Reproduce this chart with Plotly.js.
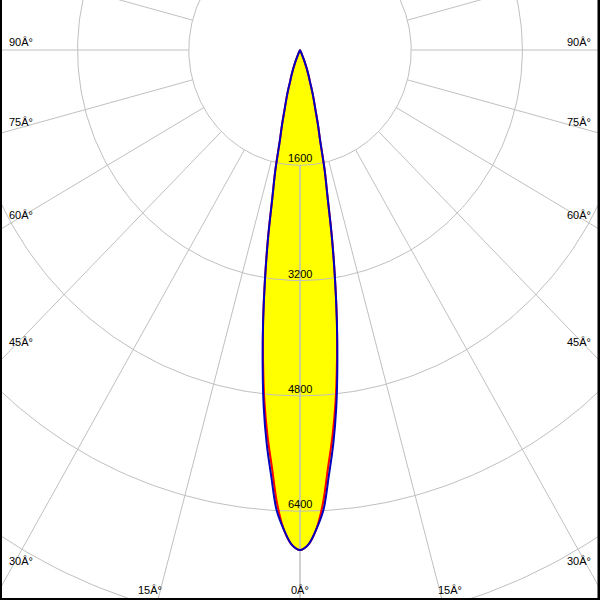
<!DOCTYPE html>
<html>
<head>
<meta charset="utf-8">
<script src="https://cdn.plot.ly/plotly-3.0.1.min.js"></script>
<style>html,body{margin:0;padding:0;background:#fff;}#chart{width:600px;height:600px;}</style>
</head>
<body>
<div id="chart"></div>
<script>
// ---- data ----
// gamma angle from nadir, degrees
const gammaDeg = [0,1,2,3,4,5,6,7,8,9,10,11,12,13,14,15,16,17,18,19,20,21,22,23,24,25,26,27,28];
// luminous intensity, cd, plane C0-C180 (red)
const intensityC0C180 = [6940,6865,6660,6300,5800,5370,4900,4360,3815,3220,2650,2080,1710,1290,1070,860,720,600,465,390,320,250,185,125,80,45,20,5,0];
// luminous intensity, cd, plane C90-C270 (blue)
const intensityC90C270 = [6940,6865,6660,6400,5930,5490,4990,4410,3815,3220,2650,2080,1710,1290,1070,860,720,600,465,390,320,250,185,125,80,45,20,5,0];
// grid rings (cd) and their labels
const ringValues = [1600,3200,4800,6400,8000,9600];
const ringLabelValues = [1600,3200,4800,6400];
// grid spokes (deg) and angle tick labels
const spokeAngles = [0,15,30,45,60,75,90,105,120,135,150,165,180];
const sideLabelAngles = [30,45,60,75,90];
const bottomLabelAngles = [0,15];
const degSuffix = 'Â°';

// ---- geometry helpers (pixels per cd on each axis) ----
const SX = 111.2/1600, SY = 115.3/1600;
const xHalf = 300/SX, yTop = 50/SY, yBot = -550/SY;
const rad = d => d*Math.PI/180;

function outline(I){
  const x=[], y=[];
  for(let i=0;i<gammaDeg.length;i++){ x.push(I[i]*Math.sin(rad(gammaDeg[i]))); y.push(-I[i]*Math.cos(rad(gammaDeg[i]))); }
  for(let i=gammaDeg.length-1;i>=0;i--){ x.push(-I[i]*Math.sin(rad(gammaDeg[i]))); y.push(-I[i]*Math.cos(rad(gammaDeg[i]))); }
  return {x,y};
}

const traces = [];
const blue = outline(intensityC90C270);
const red = outline(intensityC0C180);
traces.push({x:blue.x,y:blue.y,mode:'lines',fill:'toself',fillcolor:'#ffff00',line:{width:0,color:'rgba(0,0,0,0)',shape:'spline',smoothing:1},hoverinfo:'skip'});

// rings
const gx=[], gy=[];
ringValues.forEach(R=>{
  for(let a=0;a<=360;a+=1){ gx.push(R*Math.sin(rad(a))); gy.push(-R*Math.cos(rad(a))); }
  gx.push(null); gy.push(null);
});
// spokes, both sides
spokeAngles.forEach(a=>{
  [1,-1].forEach(s=>{
    gx.push(s*ringValues[0]*Math.sin(rad(a))); gy.push(-ringValues[0]*Math.cos(rad(a)));
    gx.push(s*20000*Math.sin(rad(a))); gy.push(-20000*Math.cos(rad(a)));
    gx.push(null); gy.push(null);
  });
});
traces.push({x:gx,y:gy,mode:'lines',line:{color:'#c0c0c0',width:1},hoverinfo:'skip',connectgaps:false});
traces.push({x:red.x,y:red.y,mode:'lines',line:{color:'#ff0000',width:2,shape:'spline',smoothing:1},hoverinfo:'skip'});
traces.push({x:blue.x,y:blue.y,mode:'lines',line:{color:'#0000c0',width:2,shape:'spline',smoothing:1},hoverinfo:'skip'});

const font = {family:'Liberation Sans, Arial, sans-serif',size:11,color:'#000'};
const annotations = [];
ringLabelValues.forEach(R=>{
  annotations.push({x:0,y:-R,xref:'x',yref:'y',text:String(R),showarrow:false,xanchor:'center',yanchor:'bottom',font:font,borderpad:0,yshift:0});
});
sideLabelAngles.forEach(a=>{
  const d = 289/SX;             // spoke point near the side edge
  const yv = -d/Math.tan(rad(a));
  const xt = 292/SX;
  annotations.push({x:-xt,y:yv,text:a+degSuffix,showarrow:false,xanchor:'left',yanchor:'bottom',font:font,borderpad:0,yshift:1});
  annotations.push({x:xt,y:yv,text:a+degSuffix,showarrow:false,xanchor:'right',yanchor:'bottom',font:font,borderpad:0,yshift:1});
});
bottomLabelAngles.forEach(a=>{
  const yv = -540/SY;
  const xv = (540/SY)*Math.tan(rad(a));
  if(a===0){
    annotations.push({x:0,y:yv,text:a+degSuffix,showarrow:false,xanchor:'center',yanchor:'middle',font:font,borderpad:0});
  } else {
    annotations.push({x:-xv,y:yv,text:a+degSuffix,showarrow:false,xanchor:'right',yanchor:'middle',font:font,borderpad:0,xshift:3});
    annotations.push({x:xv,y:yv,text:a+degSuffix,showarrow:false,xanchor:'left',yanchor:'middle',font:font,borderpad:0,xshift:-3});
  }
});

const layout = {
  width:600,height:600,margin:{l:0,r:0,t:0,b:0,pad:0},
  paper_bgcolor:'#ffffff',plot_bgcolor:'#ffffff',showlegend:false,
  xaxis:{range:[-xHalf,xHalf],visible:false,fixedrange:true},
  yaxis:{range:[yBot,yTop],visible:false,fixedrange:true},
  annotations:annotations,
  shapes:[
    {type:'line',xref:'paper',yref:'paper',x0:0,x1:0,y0:0,y1:1,line:{color:'#000',width:4}},
    {type:'line',xref:'paper',yref:'paper',x0:1,x1:1,y0:0,y1:1,line:{color:'#000',width:5}},
    {type:'line',xref:'paper',yref:'paper',x0:0,x1:1,y0:0,y1:0,line:{color:'#000',width:4}}
  ]
};
Plotly.newPlot('chart',traces,layout,{staticPlot:true,displayModeBar:false});
</script>
</body>
</html>
